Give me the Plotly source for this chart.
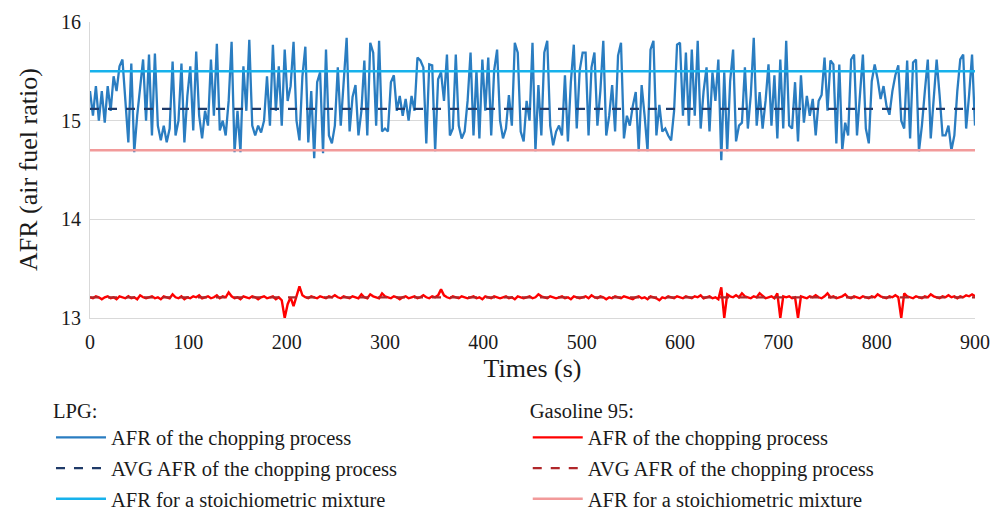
import plotly.graph_objects as go

# Sampling times (s)
times = list(range(0, 901, 3))

# LPG: AFR of the chopping process
lpg_afr = [
    15.30,15.05,15.35,15.00,15.30,14.98,15.35,15.10,15.45,15.30,
    15.55,15.62,15.20,14.78,15.58,14.68,15.05,15.35,15.62,15.00,
    15.67,14.85,15.68,14.95,14.80,14.95,14.78,14.92,15.60,14.85,
    15.00,15.58,14.78,15.25,15.55,14.90,15.70,15.05,14.82,15.10,
    14.95,15.62,15.05,15.78,14.90,15.00,14.85,15.20,15.80,14.68,
    15.10,14.68,15.55,15.10,15.82,14.95,14.85,14.95,14.88,15.00,
    15.45,14.95,15.77,15.10,15.55,14.95,15.72,15.20,15.35,15.80,
    15.00,14.80,15.45,15.75,14.78,15.30,14.62,
    15.39,15.49,14.67,15.72,14.85,14.77,14.95,15.54,14.95,15.39,
    15.84,14.89,15.24,15.36,14.85,15.10,15.61,14.85,15.79,15.69,
    14.95,15.81,14.89,14.92,14.89,15.39,15.46,15.10,15.25,15.05,
    15.22,15.00,15.25,15.10,15.64,15.61,15.54,14.77,15.57,15.56,
    14.69,15.42,15.49,15.20,15.67,14.85,14.92,15.67,14.95,14.82,
    14.89,15.20,15.69,14.85,15.51,14.82,15.62,15.10,15.64,14.85,
    15.51,15.72,15.00,14.82,14.92,15.26,14.95,15.79,15.69,14.89,
    14.79,15.20,
    15.00,15.79,14.69,15.36,14.85,15.69,15.81,14.95,14.75,14.89,
    14.95,14.85,15.46,14.79,15.39,15.77,14.92,15.51,15.69,15.69,
    14.85,15.54,15.69,14.95,15.30,15.81,14.85,15.05,15.36,14.89,
    15.66,15.79,14.82,15.05,14.95,15.15,15.29,14.69,15.36,15.05,
    14.69,15.72,15.81,14.85,15.16,14.89,14.92,14.85,14.80,15.10,
    15.77,15.79,15.05,15.69,14.95,15.72,15.05,15.81,14.92,15.30,
    15.54,14.89,15.49,15.20,15.62,14.60,15.49,14.69,15.40,15.72,
    14.79,14.95,14.98,15.54,
    14.92,15.26,15.84,14.95,15.29,14.92,15.20,15.57,14.95,15.46,
    14.82,15.62,14.92,15.81,14.95,14.92,15.39,14.79,15.46,14.98,
    15.25,15.05,15.22,14.85,15.20,15.26,15.64,15.10,15.61,15.57,
    14.77,15.57,14.70,14.98,14.85,15.62,15.67,14.85,15.25,15.67,
    14.92,14.77,15.40,15.57,15.42,15.22,15.35,15.15,15.06,15.30,
    15.46,15.56,15.00,14.92,15.61,14.82,15.59,15.62,14.69,14.95,
    15.30,15.62,14.82,15.20,15.62,15.26,14.85,14.85,14.95,14.70,
    14.85,15.30,15.62,15.67,14.92,15.26,15.67,14.95,
]

# Gasoline 95: AFR of the chopping process
gas_afr = [
    13.21,13.20,13.22,13.21,13.19,13.21,13.22,13.20,13.21,13.19,13.22,13.21,13.20,13.22,13.20,13.21,13.19,13.23,13.21,13.20,
    13.21,13.22,13.20,13.21,13.19,13.22,13.21,13.20,13.24,13.21,13.20,13.22,13.19,13.21,13.20,13.22,13.21,13.23,13.20,13.21,
    13.22,13.20,13.21,13.23,13.20,13.22,13.21,13.26,13.22,13.20,13.21,13.19,13.22,13.21,13.20,13.22,13.21,13.19,13.21,13.22,
    13.20,13.21,13.22,13.19,13.21,13.18,13.00,13.14,13.21,13.12,13.22,13.32,13.23,13.21,13.20,13.22,13.21,13.20,13.22,13.21,
    13.20,13.22,13.21,13.23,13.21,13.20,13.22,13.21,13.20,13.22,13.21,13.20,13.24,13.21,13.20,13.24,13.22,13.21,13.20,13.25,
    13.22,13.21,13.20,13.22,13.21,13.19,13.21,13.22,13.20,13.21,13.22,13.20,13.21,13.23,13.21,13.20,13.22,13.21,13.23,13.29,
    13.23,13.21,13.20,13.22,13.21,13.20,13.22,13.21,13.20,13.21,13.22,13.20,13.21,13.19,13.22,13.21,13.20,13.22,13.21,13.20,
    13.21,13.22,13.20,13.21,13.19,13.22,13.21,13.20,13.21,13.22,13.20,13.21,13.24,13.22,13.21,13.20,13.22,13.21,13.20,13.21,
    13.22,13.20,13.21,13.19,13.22,13.21,13.20,13.21,13.22,13.20,13.23,13.21,13.20,13.22,13.21,13.19,13.21,13.20,13.22,13.21,
    13.20,13.22,13.21,13.20,13.19,13.21,13.22,13.20,13.21,13.19,13.22,13.21,13.20,13.18,13.21,13.20,13.22,13.21,13.20,13.22,
    13.21,13.20,13.22,13.21,13.20,13.22,13.21,13.23,13.20,13.21,13.22,13.20,13.21,13.19,13.31,13.00,13.24,13.22,13.21,13.23,
    13.21,13.25,13.22,13.21,13.20,13.22,13.21,13.25,13.22,13.20,13.21,13.22,13.20,13.25,13.00,13.22,13.21,13.22,13.20,13.21,
    13.00,13.22,13.21,13.20,13.22,13.21,13.23,13.21,13.20,13.22,13.25,13.21,13.22,13.20,13.21,13.22,13.24,13.21,13.20,13.22,
    13.21,13.20,13.22,13.21,13.20,13.22,13.21,13.24,13.22,13.21,13.20,13.22,13.21,13.23,13.21,13.00,13.25,13.22,13.21,13.20,
    13.22,13.21,13.20,13.22,13.21,13.24,13.22,13.21,13.20,13.22,13.21,13.23,13.21,13.22,13.20,13.22,13.21,13.23,13.22,13.24,
    13.22,
]

# Constant reference levels
ref_x = [0, 900]
lpg_avg = 15.12
lpg_stoich = 15.5
gas_avg = 13.21
gas_stoich = 14.7

x_ticks = [0, 100, 200, 300, 400, 500, 600, 700, 800, 900]
y_ticks = [13, 14, 15, 16]

FONT = "Liberation Serif"
TXT = "#1a1a1a"

fig = go.Figure()

# LPG traces
fig.add_trace(go.Scatter(x=times, y=lpg_afr, mode="lines",
                         line=dict(color="#2A7DC1", width=2.3),
                         name="AFR of the chopping process",
                         legend="legend", legendgroup="l1"))
fig.add_trace(go.Scatter(x=ref_x, y=[lpg_avg] * 2, mode="lines",
                         line=dict(color="#1F3A68", width=2.2, dash="dash"),
                         name="AVG AFR of the chopping process",
                         legend="legend", legendgroup="l2"))
fig.add_trace(go.Scatter(x=ref_x, y=[lpg_stoich] * 2, mode="lines",
                         line=dict(color="#17B2EC", width=2.5),
                         name="AFR for a stoichiometric mixture",
                         legend="legend", legendgroup="l3"))

# Gasoline traces
fig.add_trace(go.Scatter(x=times, y=gas_afr, mode="lines",
                         line=dict(color="#FF0000", width=2.4),
                         name="AFR of the chopping process",
                         legend="legend2", legendgroup="g1"))
fig.add_trace(go.Scatter(x=ref_x, y=[gas_avg] * 2, mode="lines",
                         line=dict(color="#B0272A", width=2.2, dash="dash"),
                         name="AVG AFR of the chopping process",
                         legend="legend2", legendgroup="g2"))
fig.add_trace(go.Scatter(x=ref_x, y=[gas_stoich] * 2, mode="lines",
                         line=dict(color="#F29A9A", width=2.5),
                         name="AFR for a stoichiometric mixture",
                         legend="legend2", legendgroup="g3"))

legend_common = dict(
    font=dict(family=FONT, size=20.5, color=TXT),
    traceorder="grouped", tracegroupgap=1,
    bgcolor="rgba(0,0,0,0)", borderwidth=0,
    xanchor="left", yanchor="top", itemwidth=50,
    xref="container", yref="container",
)

fig.update_layout(
    width=992, height=513,
    margin=dict(l=90, r=17, t=22, b=195, autoexpand=False),
    paper_bgcolor="white", plot_bgcolor="white",
    font=dict(family=FONT, color=TXT),
    showlegend=True,
    legend=dict(**legend_common, x=0.0514, y=0.238,
                title=dict(text="LPG:", font=dict(family=FONT, size=20.5, color=TXT))),
    legend2=dict(**legend_common, x=0.532, y=0.238,
                 title=dict(text="Gasoline 95:", font=dict(family=FONT, size=20.5, color=TXT))),
    xaxis=dict(range=[0, 900], tickvals=x_ticks, showgrid=False,
               showline=True, linecolor="#D9D9D9", linewidth=1, zeroline=False,
               ticks="outside", ticklen=6, tickcolor="rgba(0,0,0,0)",
               tickfont=dict(family=FONT, size=20, color=TXT),
               title=dict(text="Times (s)", font=dict(family=FONT, size=26, color=TXT), standoff=6)),
    yaxis=dict(range=[13, 16], tickvals=y_ticks, showgrid=True, gridcolor="#D9D9D9", gridwidth=1,
               showline=True, linecolor="#D9D9D9", linewidth=1, zeroline=False,
               ticks="outside", ticklen=4, tickcolor="rgba(0,0,0,0)",
               tickfont=dict(family=FONT, size=20, color=TXT)),
    annotations=[dict(text="AFR (air fuel ratio)", xref="paper", yref="paper",
                      x=-0.07, y=0.5, xanchor="center", yanchor="middle",
                      textangle=-90, showarrow=False,
                      font=dict(family=FONT, size=26, color=TXT))],
)

fig.write_html("out.html", post_script="document.body.style.margin='0';",
               config={"displayModeBar": False})
